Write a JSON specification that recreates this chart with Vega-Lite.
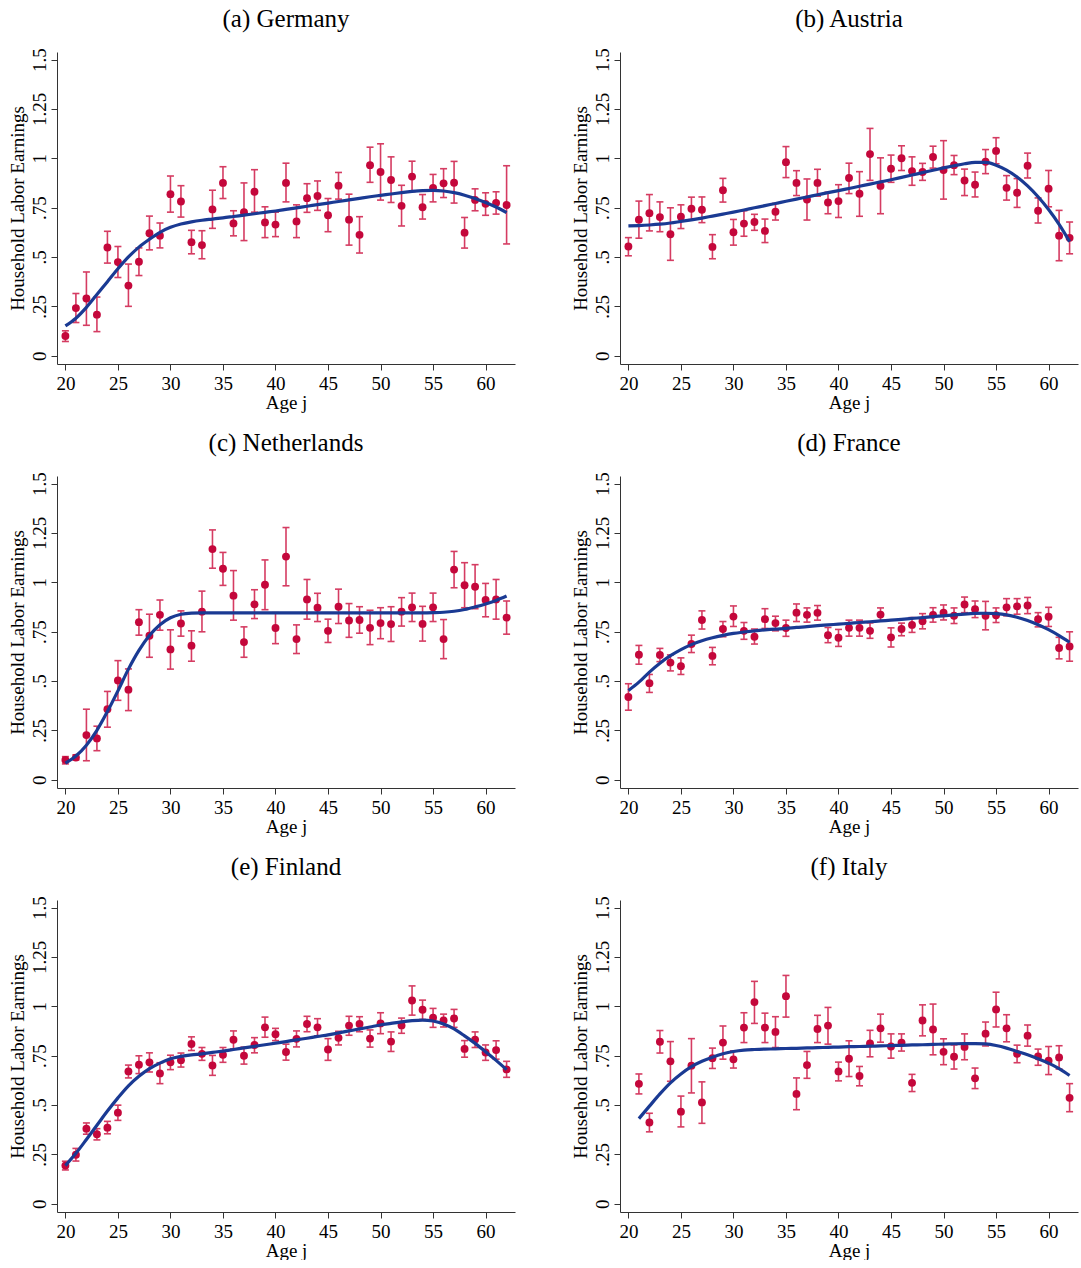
{
"$schema": "https://vega.github.io/schema/vega-lite/v6.json",
"background": "white",
"padding": {"left": 7, "top": 6, "right": 2, "bottom": 0},
"data": {"values": [
{"c":"(a) Germany","a":20,"y":0.10,"l":0.072,"h":0.126,"f":0.151},
{"c":"(a) Germany","a":21,"y":0.241,"l":0.168,"h":0.315,"f":0.19},
{"c":"(a) Germany","a":22,"y":0.29,"l":0.154,"h":0.424,"f":0.245},
{"c":"(a) Germany","a":23,"y":0.208,"l":0.122,"h":0.297,"f":0.31},
{"c":"(a) Germany","a":24,"y":0.548,"l":0.469,"h":0.63,"f":0.375},
{"c":"(a) Germany","a":25,"y":0.474,"l":0.396,"h":0.553,"f":0.44},
{"c":"(a) Germany","a":26,"y":0.355,"l":0.25,"h":0.464,"f":0.5},
{"c":"(a) Germany","a":27,"y":0.476,"l":0.406,"h":0.546,"f":0.55},
{"c":"(a) Germany","a":28,"y":0.62,"l":0.536,"h":0.707,"f":0.59},
{"c":"(a) Germany","a":29,"y":0.608,"l":0.546,"h":0.672,"f":0.625},
{"c":"(a) Germany","a":30,"y":0.818,"l":0.727,"h":0.91,"f":0.65},
{"c":"(a) Germany","a":31,"y":0.781,"l":0.702,"h":0.861,"f":0.667},
{"c":"(a) Germany","a":32,"y":0.575,"l":0.516,"h":0.635,"f":0.678},
{"c":"(a) Germany","a":33,"y":0.56,"l":0.491,"h":0.633,"f":0.686},
{"c":"(a) Germany","a":34,"y":0.741,"l":0.645,"h":0.838,"f":0.692},
{"c":"(a) Germany","a":35,"y":0.875,"l":0.796,"h":0.957,"f":0.698},
{"c":"(a) Germany","a":36,"y":0.67,"l":0.607,"h":0.734,"f":0.705},
{"c":"(a) Germany","a":37,"y":0.727,"l":0.583,"h":0.875,"f":0.712},
{"c":"(a) Germany","a":38,"y":0.83,"l":0.727,"h":0.942,"f":0.719},
{"c":"(a) Germany","a":39,"y":0.675,"l":0.598,"h":0.754,"f":0.726},
{"c":"(a) Germany","a":40,"y":0.664,"l":0.603,"h":0.727,"f":0.733},
{"c":"(a) Germany","a":41,"y":0.875,"l":0.779,"h":0.975,"f":0.741},
{"c":"(a) Germany","a":42,"y":0.68,"l":0.598,"h":0.764,"f":0.749},
{"c":"(a) Germany","a":43,"y":0.798,"l":0.726,"h":0.871,"f":0.757},
{"c":"(a) Germany","a":44,"y":0.809,"l":0.736,"h":0.885,"f":0.765},
{"c":"(a) Germany","a":45,"y":0.711,"l":0.628,"h":0.796,"f":0.773},
{"c":"(a) Germany","a":46,"y":0.861,"l":0.793,"h":0.928,"f":0.781},
{"c":"(a) Germany","a":47,"y":0.689,"l":0.56,"h":0.818,"f":0.789},
{"c":"(a) Germany","a":48,"y":0.612,"l":0.52,"h":0.704,"f":0.797},
{"c":"(a) Germany","a":49,"y":0.965,"l":0.878,"h":1.056,"f":0.805},
{"c":"(a) Germany","a":50,"y":0.93,"l":0.788,"h":1.073,"f":0.812},
{"c":"(a) Germany","a":51,"y":0.89,"l":0.776,"h":1.007,"f":0.819},
{"c":"(a) Germany","a":52,"y":0.759,"l":0.657,"h":0.863,"f":0.826},
{"c":"(a) Germany","a":53,"y":0.907,"l":0.831,"h":0.985,"f":0.832},
{"c":"(a) Germany","a":54,"y":0.752,"l":0.692,"h":0.816,"f":0.836},
{"c":"(a) Germany","a":55,"y":0.85,"l":0.779,"h":0.918,"f":0.837},
{"c":"(a) Germany","a":56,"y":0.873,"l":0.801,"h":0.947,"f":0.834},
{"c":"(a) Germany","a":57,"y":0.876,"l":0.773,"h":0.984,"f":0.826},
{"c":"(a) Germany","a":58,"y":0.623,"l":0.545,"h":0.7,"f":0.813},
{"c":"(a) Germany","a":59,"y":0.789,"l":0.734,"h":0.845,"f":0.796},
{"c":"(a) Germany","a":60,"y":0.769,"l":0.711,"h":0.825,"f":0.776},
{"c":"(a) Germany","a":61,"y":0.774,"l":0.717,"h":0.83,"f":0.753},
{"c":"(a) Germany","a":62,"y":0.763,"l":0.566,"h":0.962,"f":0.725},
{"c":"(b) Austria","a":20,"y":0.553,"l":0.506,"h":0.598,"f":0.657},
{"c":"(b) Austria","a":21,"y":0.689,"l":0.595,"h":0.783,"f":0.659},
{"c":"(b) Austria","a":22,"y":0.722,"l":0.632,"h":0.816,"f":0.662},
{"c":"(b) Austria","a":23,"y":0.702,"l":0.628,"h":0.779,"f":0.666},
{"c":"(b) Austria","a":24,"y":0.615,"l":0.483,"h":0.749,"f":0.672},
{"c":"(b) Austria","a":25,"y":0.704,"l":0.644,"h":0.764,"f":0.68},
{"c":"(b) Austria","a":26,"y":0.744,"l":0.689,"h":0.803,"f":0.688},
{"c":"(b) Austria","a":27,"y":0.739,"l":0.674,"h":0.804,"f":0.697},
{"c":"(b) Austria","a":28,"y":0.551,"l":0.491,"h":0.613,"f":0.707},
{"c":"(b) Austria","a":29,"y":0.838,"l":0.778,"h":0.898,"f":0.717},
{"c":"(b) Austria","a":30,"y":0.625,"l":0.56,"h":0.69,"f":0.727},
{"c":"(b) Austria","a":31,"y":0.669,"l":0.605,"h":0.734,"f":0.738},
{"c":"(b) Austria","a":32,"y":0.677,"l":0.635,"h":0.716,"f":0.749},
{"c":"(b) Austria","a":33,"y":0.632,"l":0.573,"h":0.692,"f":0.76},
{"c":"(b) Austria","a":34,"y":0.729,"l":0.687,"h":0.771,"f":0.771},
{"c":"(b) Austria","a":35,"y":0.98,"l":0.902,"h":1.059,"f":0.782},
{"c":"(b) Austria","a":36,"y":0.875,"l":0.811,"h":0.937,"f":0.793},
{"c":"(b) Austria","a":37,"y":0.791,"l":0.687,"h":0.895,"f":0.804},
{"c":"(b) Austria","a":38,"y":0.875,"l":0.808,"h":0.944,"f":0.815},
{"c":"(b) Austria","a":39,"y":0.776,"l":0.719,"h":0.828,"f":0.826},
{"c":"(b) Austria","a":40,"y":0.783,"l":0.7,"h":0.866,"f":0.836},
{"c":"(b) Austria","a":41,"y":0.9,"l":0.821,"h":0.975,"f":0.847},
{"c":"(b) Austria","a":42,"y":0.82,"l":0.706,"h":0.932,"f":0.858},
{"c":"(b) Austria","a":43,"y":1.021,"l":0.888,"h":1.151,"f":0.869},
{"c":"(b) Austria","a":44,"y":0.86,"l":0.719,"h":1.002,"f":0.88},
{"c":"(b) Austria","a":45,"y":0.947,"l":0.878,"h":1.016,"f":0.891},
{"c":"(b) Austria","a":46,"y":1.0,"l":0.938,"h":1.063,"f":0.903},
{"c":"(b) Austria","a":47,"y":0.935,"l":0.863,"h":1.007,"f":0.915},
{"c":"(b) Austria","a":48,"y":0.93,"l":0.888,"h":0.974,"f":0.927},
{"c":"(b) Austria","a":49,"y":1.006,"l":0.95,"h":1.061,"f":0.939},
{"c":"(b) Austria","a":50,"y":0.94,"l":0.793,"h":1.089,"f":0.951},
{"c":"(b) Austria","a":51,"y":0.965,"l":0.917,"h":1.014,"f":0.962},
{"c":"(b) Austria","a":52,"y":0.887,"l":0.811,"h":0.945,"f":0.972},
{"c":"(b) Austria","a":53,"y":0.866,"l":0.804,"h":0.93,"f":0.979},
{"c":"(b) Austria","a":54,"y":0.982,"l":0.922,"h":1.044,"f":0.979},
{"c":"(b) Austria","a":55,"y":1.037,"l":0.972,"h":1.104,"f":0.965},
{"c":"(b) Austria","a":56,"y":0.85,"l":0.788,"h":0.912,"f":0.94},
{"c":"(b) Austria","a":57,"y":0.825,"l":0.751,"h":0.897,"f":0.905},
{"c":"(b) Austria","a":58,"y":0.962,"l":0.9,"h":1.026,"f":0.86},
{"c":"(b) Austria","a":59,"y":0.734,"l":0.672,"h":0.799,"f":0.805},
{"c":"(b) Austria","a":60,"y":0.846,"l":0.754,"h":0.938,"f":0.74},
{"c":"(b) Austria","a":61,"y":0.608,"l":0.481,"h":0.736,"f":0.665},
{"c":"(b) Austria","a":62,"y":0.597,"l":0.516,"h":0.677,"f":0.578},
{"c":"(c) Netherlands","a":20,"y":0.10,"l":0.08,"h":0.117,"f":0.084},
{"c":"(c) Netherlands","a":21,"y":0.112,"l":0.10,"h":0.126,"f":0.12},
{"c":"(c) Netherlands","a":22,"y":0.226,"l":0.096,"h":0.357,"f":0.175},
{"c":"(c) Netherlands","a":23,"y":0.209,"l":0.147,"h":0.271,"f":0.25},
{"c":"(c) Netherlands","a":24,"y":0.357,"l":0.266,"h":0.447,"f":0.345},
{"c":"(c) Netherlands","a":25,"y":0.503,"l":0.402,"h":0.603,"f":0.45},
{"c":"(c) Netherlands","a":26,"y":0.456,"l":0.35,"h":0.561,"f":0.56},
{"c":"(c) Netherlands","a":27,"y":0.798,"l":0.732,"h":0.861,"f":0.655},
{"c":"(c) Netherlands","a":28,"y":0.729,"l":0.62,"h":0.838,"f":0.73},
{"c":"(c) Netherlands","a":29,"y":0.835,"l":0.757,"h":0.91,"f":0.785},
{"c":"(c) Netherlands","a":30,"y":0.66,"l":0.56,"h":0.759,"f":0.82},
{"c":"(c) Netherlands","a":31,"y":0.791,"l":0.727,"h":0.855,"f":0.838},
{"c":"(c) Netherlands","a":32,"y":0.679,"l":0.60,"h":0.754,"f":0.844},
{"c":"(c) Netherlands","a":33,"y":0.851,"l":0.749,"h":0.955,"f":0.845},
{"c":"(c) Netherlands","a":34,"y":1.168,"l":1.071,"h":1.265,"f":0.845},
{"c":"(c) Netherlands","a":35,"y":1.068,"l":0.984,"h":1.151,"f":0.845},
{"c":"(c) Netherlands","a":36,"y":0.932,"l":0.808,"h":1.059,"f":0.845},
{"c":"(c) Netherlands","a":37,"y":0.697,"l":0.62,"h":0.774,"f":0.845},
{"c":"(c) Netherlands","a":38,"y":0.888,"l":0.816,"h":0.962,"f":0.845},
{"c":"(c) Netherlands","a":39,"y":0.987,"l":0.861,"h":1.113,"f":0.845},
{"c":"(c) Netherlands","a":40,"y":0.768,"l":0.689,"h":0.846,"f":0.845},
{"c":"(c) Netherlands","a":41,"y":1.13,"l":0.982,"h":1.277,"f":0.845},
{"c":"(c) Netherlands","a":42,"y":0.712,"l":0.639,"h":0.784,"f":0.845},
{"c":"(c) Netherlands","a":43,"y":0.913,"l":0.813,"h":1.014,"f":0.845},
{"c":"(c) Netherlands","a":44,"y":0.871,"l":0.801,"h":0.944,"f":0.845},
{"c":"(c) Netherlands","a":45,"y":0.754,"l":0.695,"h":0.813,"f":0.845},
{"c":"(c) Netherlands","a":46,"y":0.876,"l":0.791,"h":0.965,"f":0.845},
{"c":"(c) Netherlands","a":47,"y":0.806,"l":0.721,"h":0.892,"f":0.845},
{"c":"(c) Netherlands","a":48,"y":0.809,"l":0.742,"h":0.876,"f":0.845},
{"c":"(c) Netherlands","a":49,"y":0.769,"l":0.684,"h":0.858,"f":0.845},
{"c":"(c) Netherlands","a":50,"y":0.793,"l":0.714,"h":0.871,"f":0.845},
{"c":"(c) Netherlands","a":51,"y":0.788,"l":0.70,"h":0.876,"f":0.845},
{"c":"(c) Netherlands","a":52,"y":0.851,"l":0.778,"h":0.922,"f":0.845},
{"c":"(c) Netherlands","a":53,"y":0.873,"l":0.801,"h":0.945,"f":0.845},
{"c":"(c) Netherlands","a":54,"y":0.789,"l":0.702,"h":0.878,"f":0.845},
{"c":"(c) Netherlands","a":55,"y":0.873,"l":0.801,"h":0.945,"f":0.846},
{"c":"(c) Netherlands","a":56,"y":0.712,"l":0.613,"h":0.811,"f":0.848},
{"c":"(c) Netherlands","a":57,"y":1.064,"l":0.972,"h":1.156,"f":0.853},
{"c":"(c) Netherlands","a":58,"y":0.985,"l":0.871,"h":1.099,"f":0.862},
{"c":"(c) Netherlands","a":59,"y":0.977,"l":0.866,"h":1.089,"f":0.875},
{"c":"(c) Netherlands","a":60,"y":0.91,"l":0.825,"h":0.994,"f":0.89},
{"c":"(c) Netherlands","a":61,"y":0.913,"l":0.813,"h":1.014,"f":0.908},
{"c":"(c) Netherlands","a":62,"y":0.821,"l":0.737,"h":0.905,"f":0.93},
{"c":"(d) France","a":20,"y":0.419,"l":0.352,"h":0.486,"f":0.452},
{"c":"(d) France","a":21,"y":0.633,"l":0.585,"h":0.68,"f":0.494},
{"c":"(d) France","a":22,"y":0.489,"l":0.442,"h":0.533,"f":0.545},
{"c":"(d) France","a":23,"y":0.632,"l":0.598,"h":0.665,"f":0.59},
{"c":"(d) France","a":24,"y":0.593,"l":0.551,"h":0.632,"f":0.628},
{"c":"(d) France","a":25,"y":0.575,"l":0.533,"h":0.617,"f":0.659},
{"c":"(d) France","a":26,"y":0.687,"l":0.644,"h":0.732,"f":0.684},
{"c":"(d) France","a":27,"y":0.809,"l":0.763,"h":0.855,"f":0.704},
{"c":"(d) France","a":28,"y":0.627,"l":0.582,"h":0.67,"f":0.719},
{"c":"(d) France","a":29,"y":0.763,"l":0.724,"h":0.801,"f":0.731},
{"c":"(d) France","a":30,"y":0.826,"l":0.776,"h":0.88,"f":0.741},
{"c":"(d) France","a":31,"y":0.754,"l":0.711,"h":0.796,"f":0.748},
{"c":"(d) France","a":32,"y":0.724,"l":0.687,"h":0.763,"f":0.754},
{"c":"(d) France","a":33,"y":0.813,"l":0.766,"h":0.866,"f":0.759},
{"c":"(d) France","a":34,"y":0.793,"l":0.754,"h":0.828,"f":0.763},
{"c":"(d) France","a":35,"y":0.768,"l":0.726,"h":0.808,"f":0.766},
{"c":"(d) France","a":36,"y":0.846,"l":0.801,"h":0.89,"f":0.771},
{"c":"(d) France","a":37,"y":0.835,"l":0.798,"h":0.87,"f":0.775},
{"c":"(d) France","a":38,"y":0.845,"l":0.808,"h":0.882,"f":0.78},
{"c":"(d) France","a":39,"y":0.732,"l":0.694,"h":0.771,"f":0.784},
{"c":"(d) France","a":40,"y":0.719,"l":0.675,"h":0.761,"f":0.788},
{"c":"(d) France","a":41,"y":0.769,"l":0.727,"h":0.808,"f":0.792},
{"c":"(d) France","a":42,"y":0.769,"l":0.727,"h":0.808,"f":0.796},
{"c":"(d) France","a":43,"y":0.754,"l":0.716,"h":0.794,"f":0.8},
{"c":"(d) France","a":44,"y":0.836,"l":0.804,"h":0.87,"f":0.804},
{"c":"(d) France","a":45,"y":0.721,"l":0.672,"h":0.769,"f":0.808},
{"c":"(d) France","a":46,"y":0.763,"l":0.729,"h":0.793,"f":0.812},
{"c":"(d) France","a":47,"y":0.784,"l":0.746,"h":0.821,"f":0.817},
{"c":"(d) France","a":48,"y":0.803,"l":0.764,"h":0.841,"f":0.821},
{"c":"(d) France","a":49,"y":0.835,"l":0.798,"h":0.871,"f":0.826},
{"c":"(d) France","a":50,"y":0.846,"l":0.809,"h":0.885,"f":0.83},
{"c":"(d) France","a":51,"y":0.83,"l":0.791,"h":0.87,"f":0.835},
{"c":"(d) France","a":52,"y":0.887,"l":0.846,"h":0.925,"f":0.839},
{"c":"(d) France","a":53,"y":0.863,"l":0.821,"h":0.905,"f":0.842},
{"c":"(d) France","a":54,"y":0.83,"l":0.759,"h":0.903,"f":0.843},
{"c":"(d) France","a":55,"y":0.833,"l":0.796,"h":0.87,"f":0.841},
{"c":"(d) France","a":56,"y":0.873,"l":0.83,"h":0.917,"f":0.835},
{"c":"(d) France","a":57,"y":0.878,"l":0.838,"h":0.917,"f":0.823},
{"c":"(d) France","a":58,"y":0.882,"l":0.841,"h":0.923,"f":0.806},
{"c":"(d) France","a":59,"y":0.813,"l":0.774,"h":0.846,"f":0.785},
{"c":"(d) France","a":60,"y":0.825,"l":0.776,"h":0.873,"f":0.76},
{"c":"(d) France","a":61,"y":0.667,"l":0.612,"h":0.721,"f":0.73},
{"c":"(d) France","a":62,"y":0.675,"l":0.60,"h":0.749,"f":0.696},
{"c":"(e) Finland","a":20,"y":0.193,"l":0.171,"h":0.215,"f":0.193},
{"c":"(e) Finland","a":21,"y":0.248,"l":0.216,"h":0.28,"f":0.255},
{"c":"(e) Finland","a":22,"y":0.38,"l":0.352,"h":0.409,"f":0.325},
{"c":"(e) Finland","a":23,"y":0.352,"l":0.323,"h":0.38,"f":0.397},
{"c":"(e) Finland","a":24,"y":0.385,"l":0.354,"h":0.417,"f":0.469},
{"c":"(e) Finland","a":25,"y":0.461,"l":0.422,"h":0.499,"f":0.536},
{"c":"(e) Finland","a":26,"y":0.67,"l":0.637,"h":0.702,"f":0.597},
{"c":"(e) Finland","a":27,"y":0.704,"l":0.659,"h":0.749,"f":0.645},
{"c":"(e) Finland","a":28,"y":0.716,"l":0.667,"h":0.764,"f":0.684},
{"c":"(e) Finland","a":29,"y":0.66,"l":0.608,"h":0.714,"f":0.712},
{"c":"(e) Finland","a":30,"y":0.716,"l":0.679,"h":0.752,"f":0.734},
{"c":"(e) Finland","a":31,"y":0.727,"l":0.692,"h":0.763,"f":0.746},
{"c":"(e) Finland","a":32,"y":0.809,"l":0.776,"h":0.845,"f":0.754},
{"c":"(e) Finland","a":33,"y":0.759,"l":0.726,"h":0.791,"f":0.759},
{"c":"(e) Finland","a":34,"y":0.70,"l":0.65,"h":0.751,"f":0.766},
{"c":"(e) Finland","a":35,"y":0.754,"l":0.716,"h":0.791,"f":0.773},
{"c":"(e) Finland","a":36,"y":0.83,"l":0.784,"h":0.875,"f":0.781},
{"c":"(e) Finland","a":37,"y":0.749,"l":0.707,"h":0.793,"f":0.789},
{"c":"(e) Finland","a":38,"y":0.804,"l":0.764,"h":0.841,"f":0.797},
{"c":"(e) Finland","a":39,"y":0.893,"l":0.843,"h":0.945,"f":0.805},
{"c":"(e) Finland","a":40,"y":0.858,"l":0.826,"h":0.888,"f":0.813},
{"c":"(e) Finland","a":41,"y":0.768,"l":0.727,"h":0.808,"f":0.821},
{"c":"(e) Finland","a":42,"y":0.835,"l":0.794,"h":0.875,"f":0.83},
{"c":"(e) Finland","a":43,"y":0.91,"l":0.871,"h":0.949,"f":0.838},
{"c":"(e) Finland","a":44,"y":0.893,"l":0.85,"h":0.937,"f":0.847},
{"c":"(e) Finland","a":45,"y":0.781,"l":0.726,"h":0.836,"f":0.855},
{"c":"(e) Finland","a":46,"y":0.84,"l":0.804,"h":0.873,"f":0.865},
{"c":"(e) Finland","a":47,"y":0.902,"l":0.853,"h":0.949,"f":0.875},
{"c":"(e) Finland","a":48,"y":0.91,"l":0.871,"h":0.947,"f":0.885},
{"c":"(e) Finland","a":49,"y":0.836,"l":0.793,"h":0.88,"f":0.895},
{"c":"(e) Finland","a":50,"y":0.913,"l":0.861,"h":0.967,"f":0.905},
{"c":"(e) Finland","a":51,"y":0.821,"l":0.771,"h":0.87,"f":0.913},
{"c":"(e) Finland","a":52,"y":0.903,"l":0.863,"h":0.94,"f":0.921},
{"c":"(e) Finland","a":53,"y":1.029,"l":0.955,"h":1.103,"f":0.927},
{"c":"(e) Finland","a":54,"y":0.982,"l":0.933,"h":1.031,"f":0.93},
{"c":"(e) Finland","a":55,"y":0.942,"l":0.893,"h":0.989,"f":0.925},
{"c":"(e) Finland","a":56,"y":0.928,"l":0.895,"h":0.96,"f":0.91},
{"c":"(e) Finland","a":57,"y":0.938,"l":0.893,"h":0.984,"f":0.885},
{"c":"(e) Finland","a":58,"y":0.784,"l":0.742,"h":0.826,"f":0.85},
{"c":"(e) Finland","a":59,"y":0.831,"l":0.791,"h":0.87,"f":0.812},
{"c":"(e) Finland","a":60,"y":0.766,"l":0.726,"h":0.804,"f":0.77},
{"c":"(e) Finland","a":61,"y":0.778,"l":0.732,"h":0.825,"f":0.726},
{"c":"(e) Finland","a":62,"y":0.68,"l":0.64,"h":0.721,"f":0.679},
{"c":"(f) Italy","a":21,"y":0.607,"l":0.556,"h":0.657,"f":0.431},
{"c":"(f) Italy","a":22,"y":0.411,"l":0.364,"h":0.458,"f":0.494},
{"c":"(f) Italy","a":23,"y":0.82,"l":0.763,"h":0.877,"f":0.556},
{"c":"(f) Italy","a":24,"y":0.721,"l":0.62,"h":0.821,"f":0.612},
{"c":"(f) Italy","a":25,"y":0.466,"l":0.389,"h":0.545,"f":0.657},
{"c":"(f) Italy","a":26,"y":0.699,"l":0.561,"h":0.836,"f":0.694},
{"c":"(f) Italy","a":27,"y":0.513,"l":0.407,"h":0.617,"f":0.721},
{"c":"(f) Italy","a":28,"y":0.737,"l":0.685,"h":0.788,"f":0.742},
{"c":"(f) Italy","a":29,"y":0.816,"l":0.732,"h":0.9,"f":0.759},
{"c":"(f) Italy","a":30,"y":0.731,"l":0.687,"h":0.774,"f":0.771},
{"c":"(f) Italy","a":31,"y":0.892,"l":0.816,"h":0.967,"f":0.778},
{"c":"(f) Italy","a":32,"y":1.021,"l":0.913,"h":1.126,"f":0.781},
{"c":"(f) Italy","a":33,"y":0.892,"l":0.816,"h":0.965,"f":0.783},
{"c":"(f) Italy","a":34,"y":0.87,"l":0.791,"h":0.947,"f":0.784},
{"c":"(f) Italy","a":35,"y":1.051,"l":0.945,"h":1.156,"f":0.786},
{"c":"(f) Italy","a":36,"y":0.556,"l":0.476,"h":0.637,"f":0.787},
{"c":"(f) Italy","a":37,"y":0.702,"l":0.635,"h":0.771,"f":0.789},
{"c":"(f) Italy","a":38,"y":0.885,"l":0.816,"h":0.954,"f":0.79},
{"c":"(f) Italy","a":39,"y":0.902,"l":0.808,"h":0.994,"f":0.792},
{"c":"(f) Italy","a":40,"y":0.67,"l":0.622,"h":0.717,"f":0.793},
{"c":"(f) Italy","a":41,"y":0.734,"l":0.644,"h":0.825,"f":0.795},
{"c":"(f) Italy","a":42,"y":0.647,"l":0.597,"h":0.695,"f":0.796},
{"c":"(f) Italy","a":43,"y":0.811,"l":0.744,"h":0.878,"f":0.798},
{"c":"(f) Italy","a":44,"y":0.888,"l":0.818,"h":0.96,"f":0.799},
{"c":"(f) Italy","a":45,"y":0.796,"l":0.737,"h":0.86,"f":0.801},
{"c":"(f) Italy","a":46,"y":0.816,"l":0.773,"h":0.86,"f":0.802},
{"c":"(f) Italy","a":47,"y":0.612,"l":0.568,"h":0.655,"f":0.804},
{"c":"(f) Italy","a":48,"y":0.928,"l":0.85,"h":1.007,"f":0.805},
{"c":"(f) Italy","a":49,"y":0.882,"l":0.754,"h":1.011,"f":0.807},
{"c":"(f) Italy","a":50,"y":0.769,"l":0.704,"h":0.835,"f":0.808},
{"c":"(f) Italy","a":51,"y":0.744,"l":0.682,"h":0.804,"f":0.81},
{"c":"(f) Italy","a":52,"y":0.794,"l":0.729,"h":0.86,"f":0.811},
{"c":"(f) Italy","a":53,"y":0.635,"l":0.583,"h":0.687,"f":0.811},
{"c":"(f) Italy","a":54,"y":0.861,"l":0.799,"h":0.92,"f":0.809},
{"c":"(f) Italy","a":55,"y":0.984,"l":0.895,"h":1.071,"f":0.801},
{"c":"(f) Italy","a":56,"y":0.888,"l":0.82,"h":0.957,"f":0.788},
{"c":"(f) Italy","a":57,"y":0.759,"l":0.714,"h":0.803,"f":0.771},
{"c":"(f) Italy","a":58,"y":0.851,"l":0.798,"h":0.905,"f":0.754},
{"c":"(f) Italy","a":59,"y":0.746,"l":0.701,"h":0.783,"f":0.734},
{"c":"(f) Italy","a":60,"y":0.724,"l":0.654,"h":0.796,"f":0.712},
{"c":"(f) Italy","a":61,"y":0.741,"l":0.682,"h":0.8,"f":0.684},
{"c":"(f) Italy","a":62,"y":0.536,"l":0.466,"h":0.608,"f":0.649}
]},
"facet": {"field": "c", "type": "nominal", "title": null,
  "header": {"labelFont": "Liberation Serif", "labelFontSize": 25, "labelColor": "#000000", "labelPadding": 16}},
"columns": 2,
"spacing": {"row": 18, "column": 55},
"resolve": {"axis": {"x": "independent", "y": "independent"}},
"spec": {
  "width": 458,
  "height": 312,
  "encoding": {
    "x": {"field": "a", "type": "quantitative",
      "scale": {"domain": [19.2, 62.8], "nice": false, "zero": false},
      "axis": {"title": "Age j", "values": [20,25,30,35,40,45,50,55,60], "grid": false, "labelPadding": 4}}
  },
  "layer": [
    {"mark": {"type": "rule", "color": "#d53c62", "strokeWidth": 1.6},
     "encoding": {"y": {"field": "l", "type": "quantitative"}, "y2": {"field": "h"}}},
    {"mark": {"type": "tick", "orient": "horizontal", "size": 7, "thickness": 1.6, "color": "#d53c62", "opacity": 1},
     "encoding": {"y": {"field": "l", "type": "quantitative"}}},
    {"mark": {"type": "tick", "orient": "horizontal", "size": 7, "thickness": 1.6, "color": "#d53c62", "opacity": 1},
     "encoding": {"y": {"field": "h", "type": "quantitative"}}},
    {"mark": {"type": "point", "filled": true, "size": 62, "color": "#c4073b", "opacity": 1},
     "encoding": {"y": {"field": "y", "type": "quantitative"}}},
    {"mark": {"type": "line", "color": "#1a3a93", "strokeWidth": 3.2, "interpolate": "monotone"},
     "encoding": {"y": {"field": "f", "type": "quantitative",
        "scale": {"domain": [-0.042, 1.538], "nice": false, "zero": false},
        "axis": {"title": "Household Labor Earnings", "values": [0,0.25,0.5,0.75,1,1.25,1.5], "grid": false,
          "labelAngle": -90, "labelAlign": "center", "labelBaseline": "bottom",
          "labelExpr": "datum.value == 0 ? '0' : datum.value < 1 ? replace(format(datum.value, '.2~f'), '0.', '.') : format(datum.value, '.2~f')"}}}}
  ]
},
"config": {
  "view": {"stroke": null},
  "font": "Liberation Serif",
  "axis": {"labelFont": "Liberation Serif", "titleFont": "Liberation Serif", "labelFontSize": 19, "titleFontSize": 19,
    "titleFontWeight": "normal", "labelColor": "#000000", "titleColor": "#000000", "domainColor": "#333333",
    "tickColor": "#333333", "tickSize": 6, "domainWidth": 1, "tickWidth": 1, "labelPadding": 2, "titlePadding": 0},
  "axisY": {"titlePadding": 3}
}
}
